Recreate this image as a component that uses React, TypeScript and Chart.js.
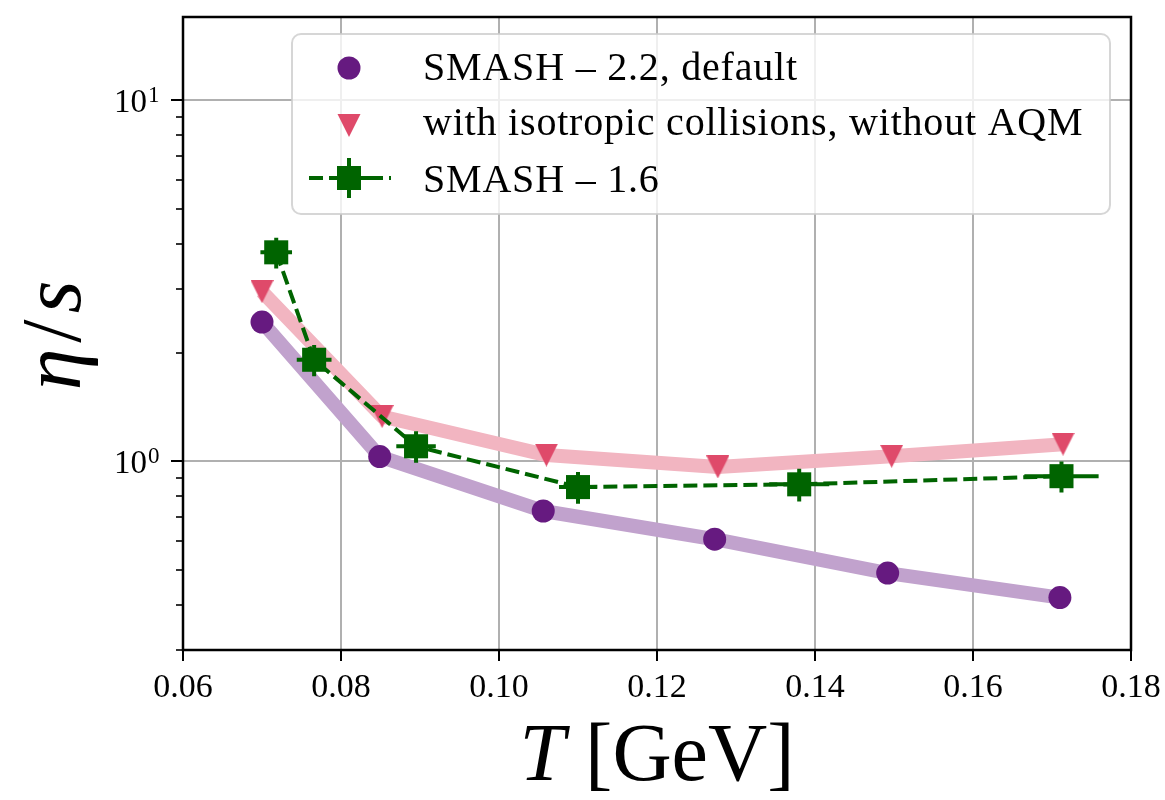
import React, { useEffect, useRef } from "react";
import { Chart, registerables } from "chart.js";

Chart.register(...registerables);

// ---------------- data ----------------
const tDefault = [0.07, 0.0849, 0.1056, 0.1273, 0.1492, 0.171];
const etaDefault = [2.43, 1.03, 0.728, 0.608, 0.49, 0.419];

const tIso = [0.07, 0.0852, 0.106, 0.1277, 0.1497, 0.1714];
const etaIso = [2.95, 1.33, 1.04, 0.964, 1.032, 1.115];

const tOld = [0.0718, 0.0766, 0.0895, 0.11, 0.138, 0.1712];
const etaOld = [3.79, 1.91, 1.1, 0.848, 0.863, 0.909];
const tOldErr = [0.002, 0.0022, 0.0025, 0.0024, 0.0038, 0.0047];
const etaOldErr = [0.37, 0.19, 0.11, 0.085, 0.09, 0.09];

const xTickValues = [0.06, 0.08, 0.1, 0.12, 0.14, 0.16, 0.18];
const xTickLabels = ["0.06", "0.08", "0.10", "0.12", "0.14", "0.16", "0.18"];
const yMajorTicks = [1, 10];
const yMajorExponents = ["0", "1"];
const yMinorTicks = [0.3, 0.4, 0.5, 0.6, 0.7, 0.8, 0.9, 2, 3, 4, 5, 6, 7, 8, 9];

const legendLabels = [
  "SMASH – 2.2, default",
  "with isotropic collisions, without AQM",
  "SMASH – 1.6",
];

// ---------------- styles ----------------
const SERIF = '"Liberation Serif", "DejaVu Serif", serif';
const GREEN = "#006400";
const PURPLE = "#661a80";
const PURPLE_LINE = "#c1a2cd";
const PINK = "#df4a6a";
const PINK_LINE = "#f2b5c1";

function makeTriangle(size: number, color: string): HTMLCanvasElement {
  const c = document.createElement("canvas");
  c.width = size;
  c.height = size;
  const g = c.getContext("2d")!;
  g.fillStyle = color;
  g.beginPath();
  g.moveTo(0, 0);
  g.lineTo(size, 0);
  g.lineTo(size / 2, size);
  g.closePath();
  g.fill();
  return c;
}

const toXY = (xs: number[], ys: number[]) => xs.map((x, i) => ({ x, y: ys[i] }));

const decorPlugin = {
  id: "decor",
  beforeDatasetsDraw(chart: any) {
    const { ctx, chartArea: a, scales } = chart;
    const xs = scales.x;
    const ys = scales.y;
    ctx.save();
    ctx.strokeStyle = "#b0b0b0";
    ctx.lineWidth = 2;
    for (const v of xTickValues) {
      const px = Math.round(xs.getPixelForValue(v));
      ctx.beginPath();
      ctx.moveTo(px, a.top);
      ctx.lineTo(px, a.bottom);
      ctx.stroke();
    }
    for (const v of yMajorTicks) {
      const py = Math.round(ys.getPixelForValue(v));
      ctx.beginPath();
      ctx.moveTo(a.left, py);
      ctx.lineTo(a.right, py);
      ctx.stroke();
    }
    ctx.restore();
  },
  beforeDatasetDraw(chart: any, args: any) {
    if (args.index !== 0) return;
    const { ctx, scales } = chart;
    const xs = scales.x;
    const ys = scales.y;
    ctx.save();
    ctx.strokeStyle = GREEN;
    ctx.lineWidth = 4;
    ctx.lineCap = "butt";
    for (let i = 0; i < tOld.length; i++) {
      const px = xs.getPixelForValue(tOld[i]);
      const py = ys.getPixelForValue(etaOld[i]);
      const x0 = xs.getPixelForValue(tOld[i] - tOldErr[i]);
      const x1 = xs.getPixelForValue(tOld[i] + tOldErr[i]);
      const y0 = ys.getPixelForValue(etaOld[i] - etaOldErr[i]);
      const y1 = ys.getPixelForValue(etaOld[i] + etaOldErr[i]);
      ctx.beginPath();
      ctx.moveTo(x0, py);
      ctx.lineTo(x1, py);
      ctx.moveTo(px, y0);
      ctx.lineTo(px, y1);
      ctx.stroke();
    }
    ctx.restore();
  },
  afterDraw(chart: any) {
    const { ctx, chartArea: a, scales } = chart;
    const xs = scales.x;
    const ys = scales.y;
    ctx.save();
    // frame
    ctx.strokeStyle = "#000";
    ctx.lineWidth = 2.5;
    ctx.strokeRect(a.left, a.top, a.right - a.left, a.bottom - a.top);

    // x ticks + labels
    ctx.lineWidth = 2;
    ctx.fillStyle = "#000";
    ctx.font = `34px ${SERIF}`;
    ctx.textAlign = "center";
    ctx.textBaseline = "alphabetic";
    xTickValues.forEach((v, i) => {
      const px = Math.round(xs.getPixelForValue(v));
      ctx.beginPath();
      ctx.moveTo(px, a.bottom);
      ctx.lineTo(px, a.bottom + 11);
      ctx.stroke();
      ctx.fillText(xTickLabels[i], px, a.bottom + 47);
    });

    // y ticks
    for (const v of yMajorTicks) {
      const py = Math.round(ys.getPixelForValue(v));
      ctx.lineWidth = 2;
      ctx.beginPath();
      ctx.moveTo(a.left - 12, py);
      ctx.lineTo(a.left, py);
      ctx.stroke();
    }
    for (const v of yMinorTicks) {
      const py = Math.round(ys.getPixelForValue(v));
      ctx.lineWidth = 1.6;
      ctx.beginPath();
      ctx.moveTo(a.left - 7, py);
      ctx.lineTo(a.left, py);
      ctx.stroke();
    }
    // y labels 10^n
    yMajorTicks.forEach((v, i) => {
      const py = ys.getPixelForValue(v);
      ctx.textAlign = "right";
      ctx.font = `33px ${SERIF}`;
      ctx.fillText("10", a.left - 36, py + 12);
      ctx.textAlign = "left";
      ctx.font = `23px ${SERIF}`;
      ctx.fillText(yMajorExponents[i], a.left - 35, py + 2);
    });

    // x title: T [GeV]
    {
      const size = 82;
      ctx.textAlign = "left";
      ctx.font = `italic ${size}px ${SERIF}`;
      const wT = ctx.measureText("T").width;
      ctx.font = `${size}px ${SERIF}`;
      const wG = ctx.measureText("[GeV]").width;
      const gap = 20;
      const cx = (a.left + a.right) / 2;
      const start = cx - (wT + gap + wG) / 2;
      const base = 780;
      ctx.font = `italic ${size}px ${SERIF}`;
      ctx.fillText("T", start, base);
      ctx.font = `${size}px ${SERIF}`;
      ctx.fillText("[GeV]", start + wT + gap, base);
    }

    // y title: η/s
    {
      const size = 84;
      ctx.save();
      ctx.translate(80, (a.top + a.bottom) / 2 + 2);
      ctx.rotate(-Math.PI / 2);
      ctx.textAlign = "left";
      ctx.font = `italic ${size}px ${SERIF}`;
      const w1 = ctx.measureText("η").width;
      const w3 = ctx.measureText("s").width;
      ctx.font = `${size}px ${SERIF}`;
      const w2 = ctx.measureText("/").width;
      const gap = 6;
      const total = w1 + w2 + w3 + 2 * gap;
      let u = -total / 2;
      ctx.font = `italic ${size}px ${SERIF}`;
      ctx.fillText("η", u, 0);
      u += w1 + gap;
      ctx.font = `${size}px ${SERIF}`;
      ctx.fillText("/", u, 0);
      u += w2 + gap;
      ctx.font = `italic ${size}px ${SERIF}`;
      ctx.fillText("s", u, 0);
      ctx.restore();
    }

    // legend
    {
      const bx = 292, by = 34, bw = 818, bh = 180, r = 9;
      ctx.beginPath();
      ctx.moveTo(bx + r, by);
      ctx.lineTo(bx + bw - r, by);
      ctx.arcTo(bx + bw, by, bx + bw, by + r, r);
      ctx.lineTo(bx + bw, by + bh - r);
      ctx.arcTo(bx + bw, by + bh, bx + bw - r, by + bh, r);
      ctx.lineTo(bx + r, by + bh);
      ctx.arcTo(bx, by + bh, bx, by + bh - r, r);
      ctx.lineTo(bx, by + r);
      ctx.arcTo(bx, by, bx + r, by, r);
      ctx.closePath();
      ctx.fillStyle = "rgba(255,255,255,0.8)";
      ctx.fill();
      ctx.strokeStyle = "rgba(204,204,204,0.8)";
      ctx.lineWidth = 2;
      ctx.stroke();

      const mx = 349;
      // purple circle
      ctx.fillStyle = PURPLE;
      ctx.beginPath();
      ctx.arc(mx, 68, 11.5, 0, Math.PI * 2);
      ctx.fill();
      // pink triangle
      ctx.fillStyle = PINK;
      ctx.beginPath();
      ctx.moveTo(mx - 11.5, 114);
      ctx.lineTo(mx + 11.5, 114);
      ctx.lineTo(mx, 137);
      ctx.closePath();
      ctx.fill();
      // green handle
      const gy = 178;
      ctx.strokeStyle = GREEN;
      ctx.lineWidth = 4;
      ctx.setLineDash([14, 6]);
      ctx.beginPath();
      ctx.moveTo(309, gy);
      ctx.lineTo(391, gy);
      ctx.stroke();
      ctx.setLineDash([]);
      ctx.beginPath();
      ctx.moveTo(329, gy);
      ctx.lineTo(381, gy);
      ctx.moveTo(mx, gy - 20);
      ctx.lineTo(mx, gy + 20);
      ctx.stroke();
      ctx.fillStyle = GREEN;
      ctx.fillRect(mx - 12, gy - 12, 24, 24);

      // texts
      ctx.fillStyle = "#000";
      ctx.textAlign = "left";
      ctx.textBaseline = "alphabetic";
      ctx.font = `40px ${SERIF}`;
      try { (ctx as any).letterSpacing = "0.8px"; } catch (e) {}
      const baselines = [80, 135, 192];
      legendLabels.forEach((t, i) => ctx.fillText(t, 423, baselines[i]));
      try { (ctx as any).letterSpacing = "0px"; } catch (e) {}
    }
    ctx.restore();
  },
};

export default function App() {
  const ref = useRef<HTMLCanvasElement | null>(null);

  useEffect(() => {
    if (!ref.current) return;
    const tri = makeTriangle(23, PINK);
    const chart = new Chart(ref.current, {
      type: "line",
      data: {
        datasets: [
          {
            label: legendLabels[2],
            data: toXY(tOld, etaOld),
            borderColor: GREEN,
            borderWidth: 4,
            borderDash: [14, 6],
            pointStyle: "rect",
            pointRadius: 17,
            pointBackgroundColor: GREEN,
            pointBorderColor: GREEN,
            pointBorderWidth: 0,
            tension: 0,
            order: 0,
          },
          {
            label: legendLabels[1],
            data: toXY(tIso, etaIso),
            showLine: false,
            pointStyle: tri as any,
            pointRadius: 12,
            pointBackgroundColor: PINK,
            pointBorderWidth: 0,
            order: 1,
          },
          {
            label: legendLabels[0],
            data: toXY(tDefault, etaDefault),
            showLine: false,
            pointStyle: "circle",
            pointRadius: 11.5,
            pointBackgroundColor: PURPLE,
            pointBorderColor: PURPLE,
            pointBorderWidth: 0,
            order: 2,
          },
          {
            label: "iso line",
            data: toXY(tIso, etaIso),
            borderColor: PINK_LINE,
            borderWidth: 14,
            borderJoinStyle: "round",
            borderCapStyle: "butt",
            pointRadius: 0,
            tension: 0,
            order: 3,
          },
          {
            label: "default line",
            data: toXY(tDefault, etaDefault),
            borderColor: PURPLE_LINE,
            borderWidth: 14,
            borderJoinStyle: "round",
            borderCapStyle: "butt",
            pointRadius: 0,
            tension: 0,
            order: 4,
          },
        ],
      },
      options: {
        responsive: false,
        animation: false,
        devicePixelRatio: 1,
        layout: { padding: { top: 13, right: 34, left: 0, bottom: 0 } },
        plugins: {
          legend: { display: false },
          tooltip: { enabled: false },
        },
        events: [],
        scales: {
          x: {
            type: "linear",
            min: 0.06,
            max: 0.18,
            grid: { display: false },
            border: { display: false },
            ticks: { display: false },
            afterFit: (s: any) => {
              s.height = 150;
            },
          },
          y: {
            type: "logarithmic",
            min: 0.3,
            max: 17,
            grid: { display: false },
            border: { display: false },
            ticks: { display: false },
            afterFit: (s: any) => {
              s.width = 183;
            },
          },
        },
      },
      plugins: [decorPlugin],
    } as any);
    return () => chart.destroy();
  }, []);

  return (
    <div style={{ position: "absolute", left: 0, top: 0, width: 1165, height: 800, background: "#fff" }}>
      <canvas ref={ref} width={1165} height={800} style={{ display: "block", width: 1165, height: 800 }} />
    </div>
  );
}
